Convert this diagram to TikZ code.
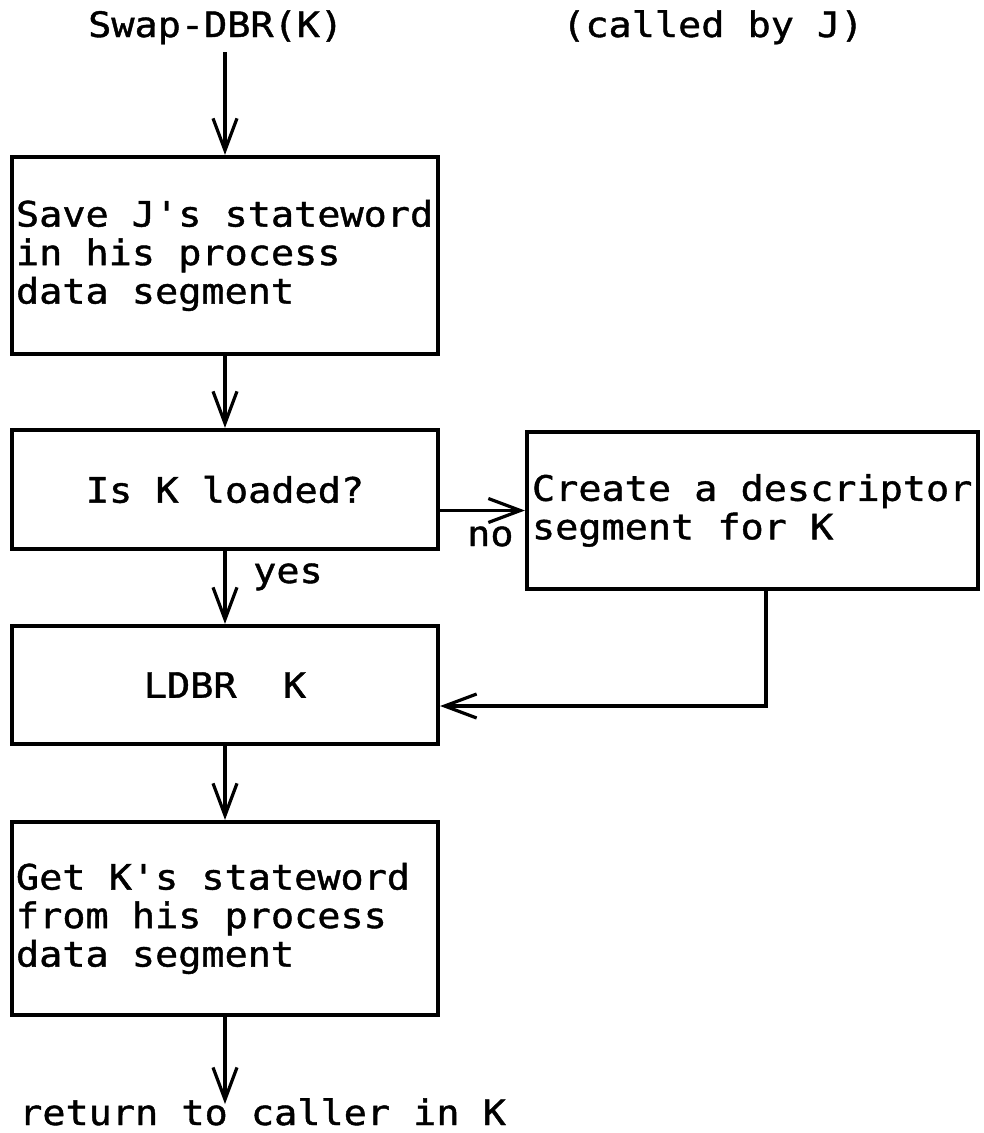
\documentclass[tikz,border=0pt]{standalone}
\usepackage{fontspec}
\newfontfamily\typefont[FakeStretch=1.1,FakeBold=1.2]{DejaVu Sans Mono}
\newcommand\typesize{\typefont\fontsize{35}{38.5}\selectfont}
\usetikzlibrary{arrows.meta,calc}
\begin{document}
\begin{tikzpicture}[x=1pt,y=-1pt,
  txt/.style={font=\typesize, inner sep=0pt},
  boxL/.style={draw, line width=4.2pt, txt, align=left, inner xsep=4pt, inner ysep=0pt, anchor=center,
    execute at begin node={\spaceskip=0pt\xspaceskip=0pt\relax}},
  boxC/.style={draw, line width=4.2pt, txt, align=center, inner sep=0pt, anchor=center},
  flow/.style={line width=3.2pt, -{Straight Barb[length=32pt,width=24pt,line width=3.2pt]}}
]
\useasboundingbox (0,0) rectangle (984,1133);
\fill[white] (0,0) rectangle (984,1133);

\node[txt, anchor=base west] (title) at (88,37) {Swap-DBR(K)};
\node[txt, anchor=base west] (caller) at (562,37) {(called by J)};
\coordinate (start) at (225,52);

\node[boxL, text width=418pt, minimum height=197pt] (b1) at (225,255.5)
  {\mbox{Save J's stateword}\\\mbox{in his process}\\\mbox{data segment}};
\node[boxC, minimum width=426pt, minimum height=119pt] (b2) at (225,489.5)
  {Is K loaded?};
\node[boxL, text width=441pt, inner xsep=5pt, minimum height=157pt] (b3) at (752.5,510.5)
  {\mbox{Create a descriptor}\\\mbox{segment for K}};
\node[boxC, minimum width=426pt, minimum height=118pt] (b4) at (225,685)
  {LDBR\ \ K};
\node[boxL, text width=418pt, minimum height=193pt] (b5) at (225,918.5)
  {\mbox{Get K's stateword}\\\mbox{from his process}\\\mbox{data segment}};

\node[txt, anchor=base west] (ret) at (19,1125) {return to caller in K};
\coordinate (end) at (225,1104);

\node[txt, anchor=base west] (no) at (467,546) {no};
\node[txt, anchor=base west] (yes) at (253,583) {yes};

\draw[flow] (start) -- (b1.north);
\draw[flow] (b1.south) -- (b2.north);
\draw[flow] (b2.south) -- (b4.north);
\draw[flow] (b4.south) -- (b5.north);
\draw[flow] (b5.south) -- (end);
\draw[flow] (b2.east |- b3.west) -- (b3.west);
\draw[flow] ([xshift=13.5pt]b3.south) |- ([yshift=-21pt]b4.east);
\end{tikzpicture}
\end{document}
